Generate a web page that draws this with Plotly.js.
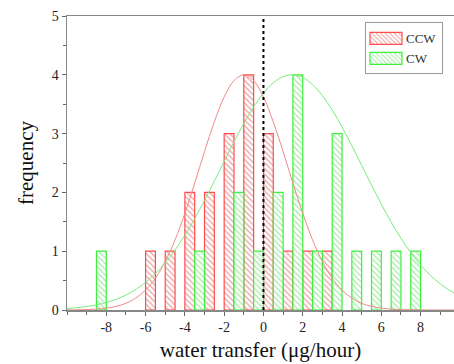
<!DOCTYPE html>
<html>
<head>
<meta charset="utf-8">
<script src="https://cdn.plot.ly/plotly-3.0.1.min.js"></script>
<style>html,body{margin:0;padding:0;background:#fff;}#chart{width:454px;height:364px;}</style>
</head>
<body>
<div id="chart"></div>
<script>
// Histogram bins (left edge of each 0.5-wide bar) and counts
const ccwBinStart = [-6, -5, -4, -3, -2, -1, 0, 1, 2, 3];
const ccwCounts   = [1, 1, 2, 2, 3, 4, 3, 1, 1, 1];
const cwBinStart  = [-8.5, -3.5, -1.5, -0.5, 0.5, 1.5, 2.5, 3.5, 4.5, 5.5, 6.5, 7.5];
const cwCounts    = [1, 1, 2, 1, 2, 4, 1, 3, 1, 1, 1, 1];

// Fitted curves
const curveX = [-10,-9.5,-9,-8.5,-8,-7.5,-7,-6.5,-6,-5.5,-5,-4.5,-4,-3.5,-3,-2.5,-2,-1.5,-1,-0.5,0,0.5,1,1.5,2,2.5,3,3.5,4,4.5,5,5.5,6,6.5,7,7.5,8,8.5,9,9.5,10];
const ccwFit = [0.001,0.003,0.007,0.015,0.032,0.062,0.114,0.202,0.339,0.541,0.824,1.192,1.644,2.158,2.694,3.20,3.624,3.90,4.0,3.90,3.624,3.20,2.694,2.158,1.644,1.192,0.824,0.541,0.339,0.202,0.114,0.062,0.032,0.015,0.007,0.003,0.001,0,0,0,0];
const cwFit  = [0.025,0.039,0.059,0.088,0.128,0.182,0.254,0.349,0.470,0.621,0.804,1.021,1.272,1.554,1.863,2.191,2.528,2.859,3.173,3.454,3.688,3.863,3.969,4.0,3.954,3.834,3.646,3.401,3.112,2.794,2.460,2.124,1.800,1.495,1.219,0.974,0.764,0.588,0.444,0.328,0.238];

// Axis ticks
const xTickVals = [-8, -6, -4, -2, 0, 2, 4, 6, 8];
const xTickText = ["-8", "-6", "-4", "-2", "0", "2", "4", "6", "8"];
const yTickVals = [0, 1, 2, 3, 4, 5];

const RED = "#ff4d4d", RED_H = "#eba0a0", RED_C = "#f08a8a";
const GRN = "#3df03d", GRN_H = "#a3eba3", GRN_C = "#7cec7c";
const FONT = "Liberation Serif, Times New Roman, serif";

const traces = [
  {type: "bar", name: "CCW", x: ccwBinStart, y: ccwCounts, offset: 0, width: 0.5,
   marker: {color: "#ffffff", line: {color: RED, width: 1.2},
            pattern: {shape: "\\", fgcolor: RED_H, bgcolor: "#ffffff", size: 4, solidity: 0.3}},
   hoverinfo: "skip"},
  {type: "bar", name: "CW", x: cwBinStart, y: cwCounts, offset: 0, width: 0.5,
   marker: {color: "#ffffff", line: {color: GRN, width: 1.2},
            pattern: {shape: "\\", fgcolor: GRN_H, bgcolor: "#ffffff", size: 4, solidity: 0.3}},
   hoverinfo: "skip"},
  {type: "scatter", mode: "lines", x: curveX, y: ccwFit, line: {color: RED_C, width: 1, shape: "spline"}, showlegend: false, hoverinfo: "skip"},
  {type: "scatter", mode: "lines", x: curveX, y: cwFit, line: {color: GRN_C, width: 1, shape: "spline"}, showlegend: false, hoverinfo: "skip"}
];

const layout = {
  width: 454, height: 364,
  margin: {l: 67, r: 0, t: 16, b: 54},
  paper_bgcolor: "#ffffff", plot_bgcolor: "#ffffff",
  barmode: "overlay",
  font: {family: FONT, color: "#222"},
  showlegend: true,
  legend: {x: 0.77, y: 0.978, xanchor: "left", yanchor: "top", bgcolor: "#ffffff",
           bordercolor: "#999", borderwidth: 1, font: {family: FONT, size: 13, color: "#333"},
           tracegroupgap: 0, itemwidth: 30},
  xaxis: {range: [-10, 9.7], showgrid: false, zeroline: false, showline: true, linecolor: "#888", linewidth: 1.5,
          mirror: true, ticks: "outside", ticklen: 4, tickcolor: "#666", tickvals: xTickVals, ticktext: xTickText,
          minor: {dtick: 1, tick0: 1, ticks: "outside", ticklen: 3, tickcolor: "#666"},
          tickfont: {family: FONT, size: 14, color: "#222"},
          title: {text: "water transfer (μg/hour)", font: {family: FONT, size: 21, color: "#111"}, standoff: 8}},
  yaxis: {range: [0, 5], showgrid: false, zeroline: false, showline: true, linecolor: "#888", linewidth: 1.5,
          ticks: "outside", ticklen: 4, tickcolor: "#666", tickvals: yTickVals,
          minor: {dtick: 0.5, ticks: "outside", ticklen: 3, tickcolor: "#666"},
          tickfont: {family: FONT, size: 14, color: "#222"},
          title: {text: "frequency", font: {family: FONT, size: 21, color: "#111"}, standoff: 12}},
  shapes: [{type: "line", xref: "x", yref: "y", x0: 0, x1: 0, y0: 0, y1: 5, layer: "above",
            line: {color: "#000", width: 2, dash: "dot"}}]
};

Plotly.newPlot("chart", traces, layout, {staticPlot: true, displayModeBar: false}).then(function (gd) {
  // widen the legend swatches to match the reference's long rectangles
  gd.querySelectorAll(".legend .legendpoints path").forEach(function (p) {
    p.setAttribute("d", "M16,6H-16V-6H16Z");
  });
});
</script>
</body>
</html>
